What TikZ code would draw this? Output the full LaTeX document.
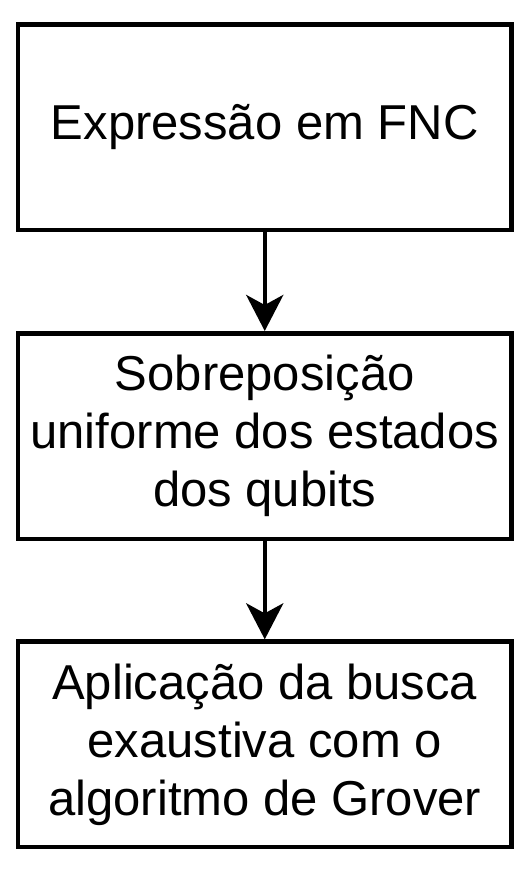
\documentclass[tikz,border=0pt]{standalone}
\usepackage{fontspec}
\setmainfont{Liberation Sans}
\usetikzlibrary{arrows.meta}
\begin{document}
\begin{tikzpicture}[x=1pt,y=1pt,
  box/.style={draw=black, line width=4.5pt, fill=white, minimum width=493.5pt, minimum height=205.5pt, inner sep=0pt, align=center, font=\fontsize{49}{58}\selectfont},
  conn/.style={line width=4.5pt, -{Stealth[length=36pt,width=37pt,inset=10pt]}}]
\useasboundingbox (0,0) rectangle (528,-886);
\node[box] (a) at (264.75,-127.25) {Expressão em FNC};
\node[box] (b) at (264.75,-436) {Sobreposição\\uniforme dos estados\\dos qubits};
\node[box] (c) at (264.75,-744.35) {Aplicação da busca\\exaustiva com o\\algoritmo de Grover};
\draw[conn] (a) -- (b);
\draw[conn] (b) -- (c);
\end{tikzpicture}
\end{document}
